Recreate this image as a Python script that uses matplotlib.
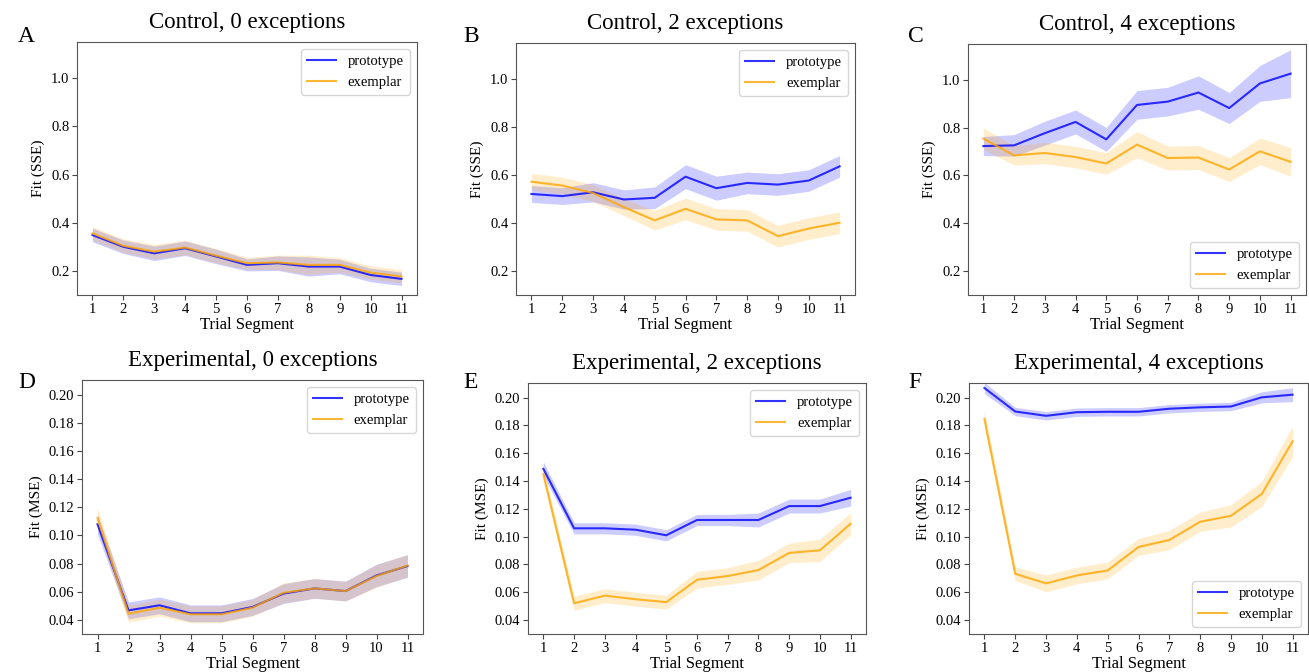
import numpy as np
import matplotlib
matplotlib.use("Agg")
import matplotlib.pyplot as plt

plt.rcParams['font.family'] = ['Liberation Serif', 'DejaVu Serif']

segments = list(range(1, 12))

# Control (SSE)
ctrl0_proto = [0.349, 0.300, 0.273, 0.294, 0.260, 0.225, 0.232, 0.218, 0.218, 0.183, 0.167]
ctrl0_proto_err = [0.028, 0.028, 0.030, 0.030, 0.030, 0.025, 0.030, 0.040, 0.030, 0.028, 0.028]
ctrl0_exem = [0.356, 0.304, 0.280, 0.297, 0.263, 0.232, 0.235, 0.225, 0.225, 0.193, 0.177]
ctrl0_exem_err = [0.028, 0.028, 0.030, 0.030, 0.030, 0.025, 0.030, 0.040, 0.030, 0.028, 0.028]

ctrl2_proto = [0.521, 0.512, 0.528, 0.498, 0.505, 0.593, 0.545, 0.567, 0.560, 0.577, 0.636]
ctrl2_proto_err = [0.035, 0.035, 0.040, 0.040, 0.045, 0.050, 0.050, 0.045, 0.045, 0.045, 0.045]
ctrl2_exem = [0.572, 0.556, 0.525, 0.466, 0.411, 0.459, 0.415, 0.411, 0.345, 0.377, 0.401]
ctrl2_exem_err = [0.035, 0.035, 0.035, 0.035, 0.040, 0.045, 0.045, 0.045, 0.045, 0.045, 0.045]

ctrl4_proto = [0.723, 0.726, 0.777, 0.824, 0.751, 0.895, 0.909, 0.947, 0.882, 0.985, 1.026]
ctrl4_proto_err = [0.040, 0.045, 0.050, 0.050, 0.050, 0.060, 0.060, 0.070, 0.065, 0.075, 0.100]
ctrl4_exem = [0.754, 0.684, 0.694, 0.677, 0.650, 0.729, 0.673, 0.675, 0.625, 0.701, 0.657]
ctrl4_exem_err = [0.045, 0.040, 0.045, 0.045, 0.045, 0.055, 0.050, 0.050, 0.050, 0.055, 0.060]

# Experimental (MSE)
exp0_proto = [0.108, 0.0468, 0.0504, 0.0447, 0.0447, 0.0492, 0.0587, 0.0624, 0.0605, 0.0716, 0.0783]
exp0_proto_err = [0.007, 0.006, 0.006, 0.006, 0.006, 0.006, 0.007, 0.007, 0.007, 0.008, 0.008]
exp0_exem = [0.1125, 0.0444, 0.0487, 0.0440, 0.0440, 0.0487, 0.0593, 0.0624, 0.0605, 0.0712, 0.0787]
exp0_exem_err = [0.007, 0.006, 0.006, 0.006, 0.006, 0.006, 0.007, 0.007, 0.007, 0.008, 0.008]

exp2_proto = [0.1488, 0.106, 0.106, 0.105, 0.101, 0.112, 0.112, 0.112, 0.122, 0.122, 0.128]
exp2_proto_err = [0.005, 0.004, 0.004, 0.004, 0.004, 0.004, 0.004, 0.005, 0.005, 0.005, 0.006]
exp2_exem = [0.145, 0.0521, 0.0576, 0.055, 0.0529, 0.069, 0.0717, 0.076, 0.0883, 0.0902, 0.1093]
exp2_exem_err = [0.005, 0.005, 0.005, 0.005, 0.005, 0.006, 0.006, 0.007, 0.007, 0.008, 0.008]

exp4_proto = [0.2069, 0.190, 0.1869, 0.1895, 0.1898, 0.1898, 0.192, 0.193, 0.1936, 0.2002, 0.2021]
exp4_proto_err = [0.004, 0.003, 0.003, 0.003, 0.003, 0.003, 0.003, 0.003, 0.003, 0.004, 0.005]
exp4_exem = [0.1848, 0.0733, 0.0664, 0.0721, 0.0757, 0.0926, 0.0976, 0.1107, 0.115, 0.1307, 0.1686]
exp4_exem_err = [0.006, 0.005, 0.006, 0.006, 0.006, 0.006, 0.007, 0.007, 0.008, 0.009, 0.011]

titles = ["Control, 0 exceptions", "Control, 2 exceptions", "Control, 4 exceptions",
          "Experimental, 0 exceptions", "Experimental, 2 exceptions", "Experimental, 4 exceptions"]
letters = ["A", "B", "C", "D", "E", "F"]

panels = [
    (ctrl0_proto, ctrl0_proto_err, ctrl0_exem, ctrl0_exem_err),
    (ctrl2_proto, ctrl2_proto_err, ctrl2_exem, ctrl2_exem_err),
    (ctrl4_proto, ctrl4_proto_err, ctrl4_exem, ctrl4_exem_err),
    (exp0_proto, exp0_proto_err, exp0_exem, exp0_exem_err),
    (exp2_proto, exp2_proto_err, exp2_exem, exp2_exem_err),
    (exp4_proto, exp4_proto_err, exp4_exem, exp4_exem_err),
]

# axes boxes in pixels: left, top, right, bottom
W, H = 1309, 672
boxes = [(77, 42, 417, 295), (516, 43, 855, 295), (968, 44, 1306, 295),
         (82, 380, 423, 634), (528, 383, 866, 634), (969, 383, 1308, 634)]
letter_pos = [(18, 37), (463, 37), (908, 37), (18, 382), (463, 382), (908, 382)]
legend_loc = ["upper right", "upper right", "lower right",
              "upper right", "upper right", "lower right"]

fig = plt.figure(figsize=(13.09, 6.72), dpi=100)

for i in range(6):
    l, t, r, b = boxes[i]
    ax = fig.add_axes([l / W, 1 - b / H, (r - l) / W, (b - t) / H])
    proto, proto_err, exem, exem_err = panels[i]
    x = np.array(segments)
    p = np.array(proto)
    pe = np.array(proto_err)
    e = np.array(exem)
    ee = np.array(exem_err)
    ax.plot(x, p, color="blue", alpha=0.8, lw=1.5, label="prototype")
    ax.fill_between(x, p - pe, p + pe, color="blue", alpha=0.2, lw=0)
    ax.plot(x, e, color="orange", alpha=0.8, lw=1.5, label="exemplar")
    ax.fill_between(x, e - ee, e + ee, color="orange", alpha=0.2, lw=0)

    ax.set_xlim(0.5, 11.5)
    ax.set_xticks(segments)
    if i < 3:
        ax.set_ylim(0.10, 1.15)
        ax.set_yticks([0.2, 0.4, 0.6, 0.8, 1.0])
        ax.set_ylabel("Fit (SSE)", fontsize=11)
    else:
        ax.set_ylim(0.030, 0.2105)
        ax.set_yticks([0.04, 0.06, 0.08, 0.10, 0.12, 0.14, 0.16, 0.18, 0.20])
        ax.set_yticklabels(["0.04", "0.06", "0.08", "0.10", "0.12", "0.14", "0.16", "0.18", "0.20"])
        ax.set_ylabel("Fit (MSE)", fontsize=11)
    ax.set_xlabel("Trial Segment", fontsize=12, labelpad=1)
    ax.tick_params(labelsize=10.5, length=3.5, color="#444444", pad=2)
    for s in ax.spines.values():
        s.set_color("#555555")
    ax.set_title(titles[i], fontsize=16.5, pad=10)
    ax.legend(loc=legend_loc[i], fontsize=10.5, framealpha=0.8)

    fig.text(letter_pos[i][0] / W, 1 - letter_pos[i][1] / H, letters[i],
             fontsize=17, va="center", ha="left")

fig.savefig("out.png", dpi=100)
